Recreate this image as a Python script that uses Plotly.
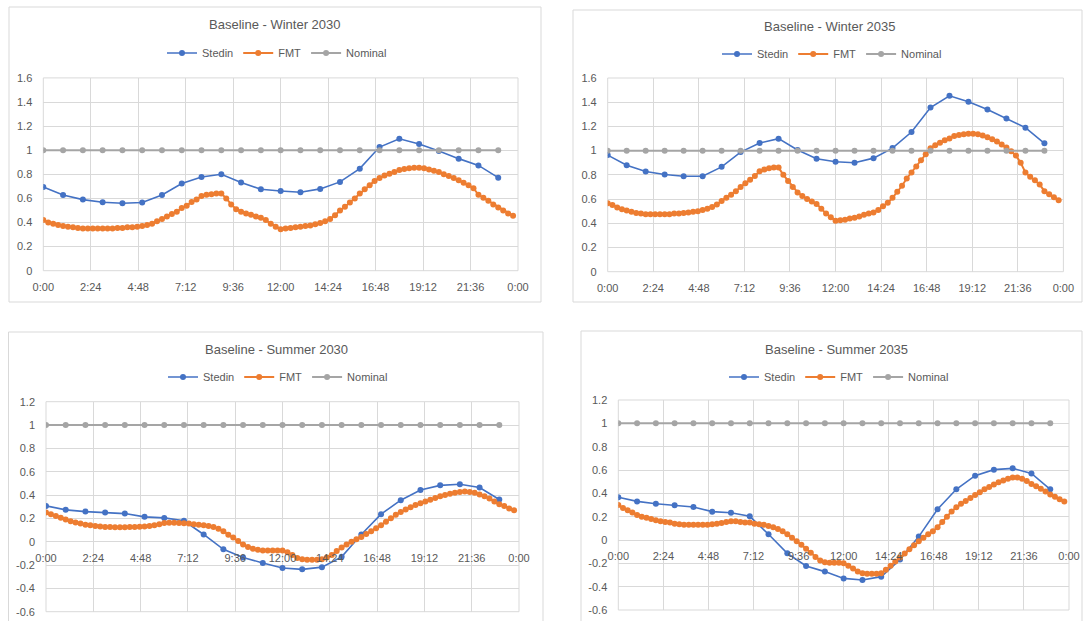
import plotly.graph_objects as go

# ---------------- data ----------------
hours = [h / 24 for h in range(24)]
quarters = [q / 96 for q in range(96)]

tick_vals_x = [i / 10 for i in range(11)]
tick_text_x = ["0:00", "2:24", "4:48", "7:12", "9:36", "12:00", "14:24", "16:48", "19:12", "21:36", "0:00"]

winter_y_vals = [0, 0.2, 0.4, 0.6, 0.8, 1.0, 1.2, 1.4, 1.6]
winter_y_text = ["0", "0.2", "0.4", "0.6", "0.8", "1", "1.2", "1.4", "1.6"]
summer_y_vals = [-0.6, -0.4, -0.2, 0, 0.2, 0.4, 0.6, 0.8, 1.0, 1.2]
summer_y_text = ["-0.6", "-0.4", "-0.2", "0", "0.2", "0.4", "0.6", "0.8", "1", "1.2"]

nominal = [1.0] * 24

stedin_w30 = [0.695, 0.629, 0.590, 0.568, 0.560, 0.566, 0.629, 0.723, 0.778, 0.800, 0.731, 0.676,
              0.662, 0.651, 0.679, 0.737, 0.847, 1.026, 1.095, 1.051, 0.993, 0.930, 0.874, 0.772]
fmt_w30 = [0.42, 0.40, 0.39, 0.38, 0.37, 0.365, 0.36, 0.355, 0.35, 0.35, 0.35, 0.35,
           0.35, 0.35, 0.35, 0.355, 0.355, 0.36, 0.36, 0.365, 0.37, 0.38, 0.39, 0.41,
           0.43, 0.45, 0.47, 0.49, 0.52, 0.54, 0.57, 0.59, 0.62, 0.63, 0.635, 0.64,
           0.64, 0.60, 0.55, 0.51, 0.49, 0.475, 0.465, 0.45, 0.44, 0.42, 0.39, 0.365,
           0.345, 0.35, 0.355, 0.36, 0.365, 0.37, 0.375, 0.385, 0.395, 0.41, 0.43, 0.46,
           0.50, 0.53, 0.565, 0.60, 0.64, 0.675, 0.71, 0.745, 0.77, 0.79, 0.805, 0.82,
           0.835, 0.845, 0.85, 0.855, 0.855, 0.85, 0.84, 0.83, 0.82, 0.80, 0.785, 0.77,
           0.75, 0.73, 0.71, 0.685, 0.63, 0.605, 0.58, 0.55, 0.525, 0.50, 0.475, 0.455]

stedin_w35 = [0.963, 0.880, 0.828, 0.803, 0.789, 0.789, 0.866, 0.988, 1.063, 1.099, 1.005, 0.933,
              0.908, 0.900, 0.938, 1.021, 1.154, 1.356, 1.453, 1.403, 1.340, 1.265, 1.190, 1.060]
fmt_w35 = [0.565, 0.55, 0.53, 0.515, 0.505, 0.495, 0.485, 0.48, 0.475, 0.475, 0.475, 0.475,
           0.475, 0.475, 0.48, 0.48, 0.485, 0.49, 0.495, 0.50, 0.51, 0.52, 0.535, 0.555,
           0.585, 0.61, 0.635, 0.665, 0.70, 0.73, 0.76, 0.79, 0.83, 0.845, 0.855, 0.86,
           0.86, 0.80, 0.75, 0.70, 0.655, 0.625, 0.60, 0.58, 0.56, 0.52, 0.48, 0.45,
           0.42, 0.425, 0.43, 0.44, 0.445, 0.455, 0.47, 0.48, 0.49, 0.51, 0.54, 0.57,
           0.61, 0.66, 0.71, 0.77, 0.82, 0.87, 0.92, 0.97, 1.02, 1.045, 1.065, 1.085,
           1.10, 1.12, 1.13, 1.135, 1.14, 1.14, 1.135, 1.125, 1.11, 1.095, 1.075, 1.05,
           1.025, 0.995, 0.96, 0.90, 0.82, 0.785, 0.755, 0.72, 0.665, 0.64, 0.615, 0.59]

stedin_s30 = [0.307, 0.273, 0.258, 0.250, 0.241, 0.213, 0.204, 0.179, 0.062, -0.065, -0.136, -0.182,
              -0.226, -0.237, -0.218, -0.13, 0.062, 0.236, 0.356, 0.443, 0.483, 0.493, 0.465, 0.362]
fmt_s30 = [0.25, 0.235, 0.22, 0.205, 0.19, 0.175, 0.165, 0.155, 0.145, 0.14, 0.135, 0.13,
           0.125, 0.125, 0.123, 0.123, 0.123, 0.125, 0.125, 0.128, 0.13, 0.135, 0.14, 0.15,
           0.16, 0.163, 0.163, 0.16, 0.158, 0.155, 0.15, 0.145, 0.14, 0.135, 0.125, 0.11,
           0.09, 0.06, 0.035, 0.005, -0.025, -0.045, -0.06, -0.07, -0.075, -0.075, -0.075, -0.075,
           -0.075, -0.09, -0.115, -0.14, -0.15, -0.155, -0.155, -0.155, -0.15, -0.135, -0.115, -0.08,
           -0.05, -0.025, 0.0, 0.02, 0.04, 0.065, 0.09, 0.115, 0.14, 0.17, 0.20, 0.23,
           0.255, 0.275, 0.295, 0.315, 0.33, 0.345, 0.36, 0.375, 0.39, 0.40, 0.41, 0.42,
           0.425, 0.43, 0.425, 0.42, 0.405, 0.39, 0.37, 0.345, 0.32, 0.305, 0.285, 0.27]

stedin_s35 = [0.366, 0.331, 0.311, 0.297, 0.283, 0.243, 0.234, 0.203, 0.049, -0.114, -0.222, -0.271,
              -0.329, -0.343, -0.314, -0.168, 0.029, 0.264, 0.435, 0.551, 0.603, 0.614, 0.571, 0.434]
fmt_s35 = [0.30, 0.275, 0.255, 0.235, 0.215, 0.20, 0.19, 0.18, 0.17, 0.16, 0.155, 0.15,
           0.14, 0.135, 0.13, 0.13, 0.13, 0.13, 0.13, 0.13, 0.135, 0.14, 0.145, 0.155,
           0.16, 0.16, 0.155, 0.15, 0.15, 0.14, 0.135, 0.13, 0.12, 0.11, 0.095, 0.075,
           0.05, 0.02, -0.01, -0.04, -0.075, -0.11, -0.145, -0.175, -0.19, -0.195, -0.195, -0.195,
           -0.20, -0.22, -0.245, -0.27, -0.285, -0.29, -0.29, -0.29, -0.285, -0.255, -0.22, -0.185,
           -0.15, -0.115, -0.08, -0.045, -0.01, 0.02, 0.05, 0.075, 0.11, 0.155, 0.20, 0.245,
           0.28, 0.31, 0.335, 0.36, 0.385, 0.41, 0.435, 0.455, 0.475, 0.495, 0.51, 0.525,
           0.535, 0.535, 0.525, 0.505, 0.48, 0.46, 0.44, 0.415, 0.39, 0.37, 0.35, 0.33]

titles = ["Baseline - Winter 2030", "Baseline - Winter 2035",
          "Baseline - Summer 2030", "Baseline - Summer 2035"]

# ---------------- layout geometry (window pixels) ----------------
W, H = 1083, 621
FONT = "Arial, Liberation Sans, sans-serif"
TXT = "#595959"
GRID = "#d9d9d9"
BLUE, ORANGE, GRAY = "#4472c4", "#ed7d31", "#a5a5a5"


def px(x):
    return x / W


def py(y):
    return 1 - y / H


panels = [
    dict(stedin=stedin_w30, fmt=fmt_w30, yv=winter_y_vals, yt=winter_y_text, yr=[0, 1.6],
         plot=(43.3, 518, 77.9, 270.7), zero=None, border=(9, 541, 7, 302),
         title=(275, 25), legend=(277, 53)),
    dict(stedin=stedin_w35, fmt=fmt_w35, yv=winter_y_vals, yt=winter_y_text, yr=[0, 1.6],
         plot=(607.7, 1063.4, 78, 271.7), zero=None, border=(573, 1082, 10, 302),
         title=(830, 27), legend=(832, 54)),
    dict(stedin=stedin_s30, fmt=fmt_s30, yv=summer_y_vals, yt=summer_y_text, yr=[-0.6, 1.2],
         plot=(46, 519, 401.7, 611.7), zero=541.7, border=(8.5, 543, 332, 640),
         title=(276, 350), legend=(278, 377)),
    dict(stedin=stedin_s35, fmt=fmt_s35, yv=summer_y_vals, yt=summer_y_text, yr=[-0.6, 1.2],
         plot=(618.3, 1069, 400, 610), zero=540, border=(581, 1082, 331, 640),
         title=(836, 349), legend=(839, 377)),
]

fig = go.Figure()
annotations = []
shapes = []
layout_extra = {}

for i, p in enumerate(panels, start=1):
    sfx = "" if i == 1 else str(i)
    xa, ya = "x" + sfx, "y" + sfx
    lg = "legend" + sfx
    common = dict(xaxis=xa, yaxis=ya, legend=lg, mode="lines+markers")
    fig.add_trace(go.Scatter(x=hours, y=p["stedin"], name="Stedin",
                             line=dict(color=BLUE, width=1.6), marker=dict(color=BLUE, size=6), **common))
    fig.add_trace(go.Scatter(x=quarters, y=p["fmt"], name="FMT",
                             line=dict(color=ORANGE, width=2), marker=dict(color=ORANGE, size=6), **common))
    fig.add_trace(go.Scatter(x=hours, y=nominal, name="Nominal",
                             line=dict(color=GRAY, width=2), marker=dict(color=GRAY, size=6), **common))

    x0, x1, ytop, ybot = p["plot"]
    xaxis = dict(domain=[px(x0), min(px(x1), 1)], range=[0, 1], tickvals=tick_vals_x, ticktext=tick_text_x,
                 showgrid=True, gridcolor=GRID, gridwidth=1, zeroline=False, showline=False,
                 ticks="", tickfont=dict(family=FONT, size=11, color=TXT), ticklabelstandoff=8,
                 fixedrange=True, automargin=False)
    if p["zero"] is None:
        xaxis["anchor"] = ya
    else:
        xaxis["anchor"] = "free"
        xaxis["position"] = py(p["zero"])
    yaxis = dict(domain=[max(py(ybot), 0), py(ytop)], range=p["yr"], tickvals=p["yv"], ticktext=p["yt"],
                 showgrid=True, gridcolor=GRID, gridwidth=1, zeroline=False, showline=False,
                 ticks="", tickfont=dict(family=FONT, size=11, color=TXT), ticklabelstandoff=10,
                 anchor=xa, fixedrange=True, automargin=False)
    layout_extra["xaxis" + sfx] = xaxis
    layout_extra["yaxis" + sfx] = yaxis

    lx, ly = p["legend"]
    layout_extra[lg] = dict(orientation="h", x=px(lx), xanchor="center", y=py(ly), yanchor="middle",
                            font=dict(family=FONT, size=11, color=TXT), bgcolor="rgba(0,0,0,0)",
                            itemwidth=30, tracegroupgap=0)

    tx, ty = p["title"]
    annotations.append(dict(text=titles[i - 1], x=px(tx), y=py(ty), xref="paper", yref="paper",
                            xanchor="center", yanchor="middle", showarrow=False,
                            font=dict(family=FONT, size=13, color=TXT)))

    bx0, bx1, by0, by1 = p["border"]
    shapes.append(dict(type="rect", xref="paper", yref="paper", x0=px(bx0), x1=px(bx1),
                       y0=py(by1), y1=py(by0), line=dict(color=GRID, width=1), layer="below"))
    shapes.append(dict(type="rect", xref=xa + " domain", yref=ya + " domain", x0=0, x1=1, y0=0, y1=1,
                       line=dict(color=GRID, width=1), layer="below"))

fig.update_layout(width=W, height=H, margin=dict(l=0, r=0, t=0, b=0, pad=0, autoexpand=False),
                  paper_bgcolor="white", plot_bgcolor="white",
                  font=dict(family=FONT, size=11, color=TXT), hovermode=False,
                  annotations=annotations, shapes=shapes, **layout_extra)

fig.write_html("out.html", config={"displayModeBar": False},
               post_script="document.body.style.margin='0';document.body.style.overflow='hidden';")
